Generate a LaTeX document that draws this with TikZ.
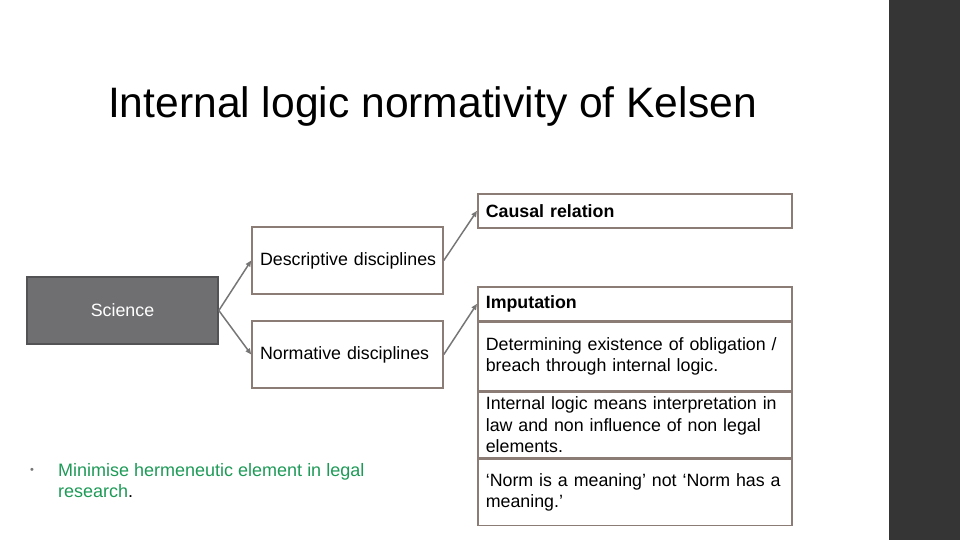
\documentclass[tikz,border=0pt]{standalone}
\usepackage{fontspec}
\setmainfont{Liberation Sans}
\usetikzlibrary{arrows.meta}
\definecolor{sidebar}{HTML}{353535}
\definecolor{sciencegray}{HTML}{6F6F72}
\definecolor{boxline}{HTML}{8C7C76}
\definecolor{linkgray}{HTML}{767676}
\definecolor{bulletgreen}{HTML}{1E9A57}

\begin{document}
\begin{tikzpicture}[x=1pt,y=-1pt,
  every node/.style={font=\fontsize{17.8}{21.5}\selectfont},
  scibox/.style={draw=sciencegray!75!black,line width=1.6pt,fill=sciencegray,text=white,
    minimum width=191pt,minimum height=67pt,inner sep=0pt},
  discbox/.style={draw=boxline,line width=1.6pt,fill=white,minimum width=191pt,
    minimum height=67pt,text width=175pt,align=left,inner xsep=8pt},
  rowbox/.style={draw=boxline,line width=1.6pt,fill=white,minimum width=314pt,
    text width=298pt,align=left,inner xsep=8pt,inner ysep=1pt,anchor=north west},
  link/.style={linkgray,line width=1.5pt,-{Triangle[length=6pt,width=5pt]}}]
  \useasboundingbox (0,0) rectangle (960,540);
  \fill[sidebar] (889,0) rectangle (960,540);
  \node (title) at (432.5,106) {\fontsize{42.6}{46}\selectfont Internal logic normativity of Kelsen};
  \node[scibox] (science) at (122.5,310.5) {Science};
  \node[discbox] (desc) at (347.5,260.5) {\mbox{Descriptive disciplines}};
  \node[discbox] (norm) at (347.5,354.5) {\mbox{Normative disciplines}};
  \node[rowbox,minimum height=34pt] (causal) at (477,193) {\bfseries Causal relation};
  \node[rowbox,minimum height=34pt] (imput) at (477,286) {\bfseries Imputation};
  \node[rowbox,minimum height=68pt] (obl) at (imput.south west)
    {Determining existence of obligation /\\breach through internal logic.};
  \node[rowbox,minimum height=66pt] (logic) at (obl.south west)
    {Internal logic means interpretation in\\law and non influence of non legal\\elements.\\[-3pt]};
  \node[rowbox,minimum height=66pt] (meaning) at (logic.south west)
    {‘Norm is a meaning’ not ‘Norm has a\\meaning.’};
  \draw[link] (science.east) -- (desc.west);
  \draw[link] (science.east) -- (norm.west);
  \draw[link] (desc.east) -- (causal.west);
  \draw[link] (norm.east) -- (imput.west);
  \node[text=linkgray,font=\fontsize{11}{12}\selectfont] (dot) at (32,471) {\textbullet};
  \node[anchor=north west,align=left,text=bulletgreen,inner sep=0pt,
    font=\fontsize{18}{21}\selectfont] (aim) at (58,463)
    {Minimise hermeneutic element in legal\\research{\color{black}.}};
\end{tikzpicture}
\end{document}
